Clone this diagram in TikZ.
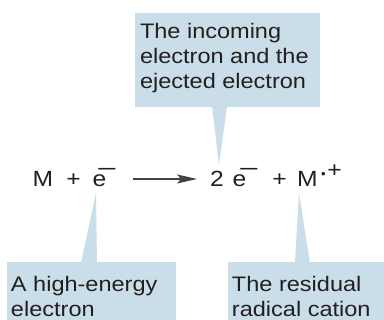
\documentclass[tikz,border=0pt]{standalone}
\usepackage{fontspec}
\usepackage{graphicx}
\setmainfont{Liberation Sans}
\usetikzlibrary{arrows.meta}
\definecolor{boxblue}{HTML}{C9DEE9}
\definecolor{ink}{HTML}{231F20}
\newcommand\widen[2][1.12]{\scalebox{#1}[1]{#2}}
\newcommand\lines[1]{\widen{\begin{tabular}[t]{@{}l@{}}#1\end{tabular}}}
\begin{document}
\begin{tikzpicture}[x=1pt,y=-1pt,
  every node/.style={inner sep=0pt,outer sep=0pt,text=ink},
  eq/.style={font=\fontsize{22}{24}\selectfont,anchor=base},
  label/.style={font=\fontsize{21}{25}\selectfont,anchor=base west},
  callout/.style={fill=boxblue,draw=none}]
\useasboundingbox (0,0) rectangle (384,320);
% callout shapes
\fill[callout] (135,13) rectangle (320,107);
\fill[callout] (212,106) -- (219,165) -- (227,106) -- cycle;
\fill[callout] (7,262) rectangle (176,320);
\fill[callout] (81,263) -- (96,193) -- (97,263) -- cycle;
\fill[callout] (228,262) rectangle (384,320);
\fill[callout] (295,263) -- (299,193) -- (310,263) -- cycle;
% labels
\node[label] (top) at (140,39) {\lines{The incoming\\electron and the\\ejected electron}};
\node[label] (bl) at (11,292) {\lines{A high-energy\\electron}};
\node[label] (br) at (232,292) {\lines{The residual\\radical cation}};
% equation
\node[eq] (M1) at (43,187) {\widen{M}};
\node[eq] (p1) at (73.5,187) {\widen{+}};
\node[eq] (e1) at (99.5,187) {\widen{e}};
\node[eq] (m1) at (107,176.7) {\widen[1.6]{−}};
\coordinate (a1) at (133,179);
\coordinate (a2) at (197,179);
\draw[ink!85,line width=1.1pt,-{Stealth[length=20pt,width=9pt,inset=4pt]}] (a1) -- (a2);
\node[eq] (two) at (217,187) {\widen{2}};
\node[eq] (e2) at (239.5,187) {\widen{e}};
\node[eq] (m2) at (249,176.7) {\widen[1.6]{−}};
\node[eq] (p2) at (279.5,187) {\widen{+}};
\node[eq] (M2) at (307.5,187) {\widen{M}};
\node[eq,font=\fontsize{13}{13}\selectfont] (dot) at (323.5,178.5) {•};
\node[eq] (p3) at (334.5,177.7) {\widen{+}};
\end{tikzpicture}
\end{document}
